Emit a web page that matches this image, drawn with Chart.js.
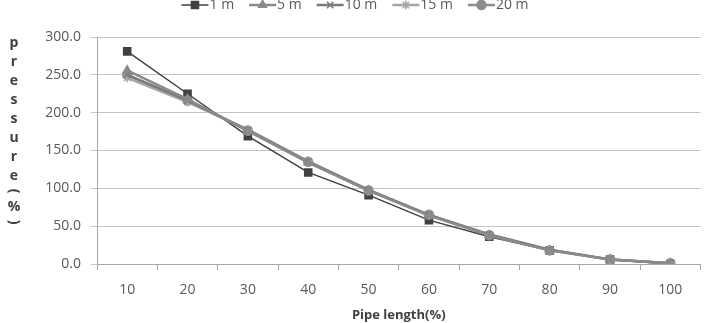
<!DOCTYPE html>
<html>
<head>
<meta charset="utf-8">
<script src="https://cdn.jsdelivr.net/npm/chart.js@4.4.0/dist/chart.umd.min.js"></script>
<style>
  html, body { margin: 0; padding: 0; background: #fff; }
  #wrap { width: 707px; height: 323px; position: relative; }
</style>
</head>
<body>
<div id="wrap"><canvas id="chartPressure"></canvas></div>
<script>
// pipe length categories and pressure (%)
var pipe_lengths = ['10', '20', '30', '40', '50', '60', '70', '80', '90', '100'];
var series_names = ['1 m', '5 m', '10 m', '15 m', '20 m'];
var pressure_1m  = [281, 225, 169, 121, 91, 58, 36, 18, 6, 0];
var pressure_5m  = [256, 218, 176, 134, 97, 64, 38, 18, 6, 1];
var pressure_10m = [250, 216, 177, 135, 98, 65, 39, 19, 6, 1];
var pressure_15m = [246, 214, 178, 136, 98, 65, 39, 19, 6, 1];
var pressure_20m = [250, 216, 176, 135, 97, 65, 38, 18, 6, 1];
var y_ticks = [0, 50, 100, 150, 200, 250, 300];
var y_title_letters = ['p', 'r', 'e', 's', 's', 'u', 'r', 'e', '(', '%', ')'];

var label_font = "'Open Sans', sans-serif";
var text_color = '#595959';

function makeSeries(name, data, color, style, width, radius) {
    return {
        label: name,
        data: data,
        borderColor: color,
        backgroundColor: color,
        borderWidth: width,
        pointStyle: style,
        pointRadius: radius,
        pointBorderColor: color,
        pointBackgroundColor: color,
        pointBorderWidth: 1.5,
        tension: 0
    };
}

var datasets = [
    makeSeries(series_names[1], pressure_5m, '#8a8a8a', 'triangle', 2.5, 4.5),
    makeSeries(series_names[2], pressure_10m, '#7a7a7a', 'crossRot', 2.5, 4.5),
    makeSeries(series_names[3], pressure_15m, '#a6a6a6', 'star', 2.5, 4.5),
    makeSeries(series_names[4], pressure_20m, '#8c8c8c', 'circle', 2.5, 4.5),
    makeSeries(series_names[0], pressure_1m, '#404040', 'rect', 1.5, 5)
];
// legend order as in the picture
var legend_order = [4, 0, 1, 2, 3];

// legend with a short line and the marker, drawn at the top
var lineLegend = {
    id: 'lineLegend',
    afterDraw: function (chart) {
        var ctx = chart.ctx;
        ctx.save();
        ctx.font = '14px ' + label_font;
        var line_w = 27, gap_text = 1, gap_item = 15;
        var total = 0;
        legend_order.forEach(function (i, k) {
            total += line_w + gap_text + ctx.measureText(chart.data.datasets[i].label).width;
            if (k < legend_order.length - 1) total += gap_item;
        });
        var x = 355 - total / 2;
        var y = 5;
        legend_order.forEach(function (i) {
            var ds = chart.data.datasets[i];
            ctx.strokeStyle = ds.borderColor;
            ctx.fillStyle = ds.backgroundColor;
            ctx.lineWidth = ds.borderWidth;
            ctx.beginPath();
            ctx.moveTo(x, y);
            ctx.lineTo(x + line_w, y);
            ctx.stroke();
            ctx.lineWidth = ds.pointBorderWidth;
            Chart.helpers.drawPoint(ctx, {
                pointStyle: ds.pointStyle,
                radius: ds.pointRadius,
                rotation: 0,
                borderWidth: ds.pointBorderWidth
            }, x + line_w / 2, y);
            ctx.fillStyle = text_color;
            ctx.textBaseline = 'middle';
            ctx.textAlign = 'left';
            ctx.fillText(ds.label, x + line_w + gap_text, y);
            x += line_w + gap_text + ctx.measureText(ds.label).width + gap_item;
        });
        ctx.restore();
    }
};

// stacked y title: p r e s s u r e ( % ) with turned brackets
var stackedTitle = {
    id: 'stackedTitle',
    afterDraw: function (chart) {
        var ctx = chart.ctx;
        ctx.save();
        ctx.font = 'bold 14px ' + label_font;
        ctx.fillStyle = '#404040';
        ctx.textAlign = 'center';
        ctx.textBaseline = 'middle';
        var y = 43;
        y_title_letters.forEach(function (ch) {
            if (ch === '(' || ch === ')') {
                ctx.save();
                ctx.translate(14, y - 4);
                ctx.rotate(Math.PI / 2);
                ctx.fillText(ch, 0, 0);
                ctx.restore();
                y += 12;
            } else {
                ctx.fillText(ch, 14, y);
                y += 19;
            }
        });
        ctx.restore();
    }
};

new Chart(document.getElementById('chartPressure').getContext('2d'), {
    type: 'line',
    data: { labels: pipe_lengths, datasets: datasets },
    options: {
        responsive: true,
        maintainAspectRatio: false,
        animation: false,
        layout: { padding: { left: 0, right: 5, top: 37, bottom: 0 } },
        plugins: {
            legend: { display: false },
            tooltip: { enabled: false }
        },
        scales: {
            x: {
                offset: true,
                grid: {
                    offset: true,
                    drawOnChartArea: false,
                    drawTicks: true,
                    tickLength: 6,
                    color: '#a6a6a6'
                },
                border: { color: '#a6a6a6', width: 1 },
                ticks: {
                    color: text_color,
                    font: { family: label_font, size: 14 },
                    padding: 12,
                    maxRotation: 0
                },
                title: {
                    display: true,
                    text: 'Pipe length(%)',
                    color: '#404040',
                    font: { family: label_font, size: 13, weight: 'bold' },
                    padding: { top: 0, bottom: 0 }
                },
                afterFit: function (scale) { scale.height = 59; }
            },
            y: {
                min: 0,
                max: 300,
                afterBuildTicks: function (scale) {
                    scale.ticks = y_ticks.map(function (v) { return { value: v }; });
                },
                grid: {
                    color: '#c4c4c4',
                    tickLength: 6,
                    drawTicks: true
                },
                border: { color: '#a6a6a6', width: 1 },
                ticks: {
                    color: text_color,
                    font: { family: label_font, size: 14 },
                    padding: 10,
                    callback: function (v) { return Number(v).toFixed(1); }
                },
                afterFit: function (scale) { scale.width = 97; }
            }
        }
    },
    plugins: [lineLegend, stackedTitle]
});
</script>
</body>
</html>
